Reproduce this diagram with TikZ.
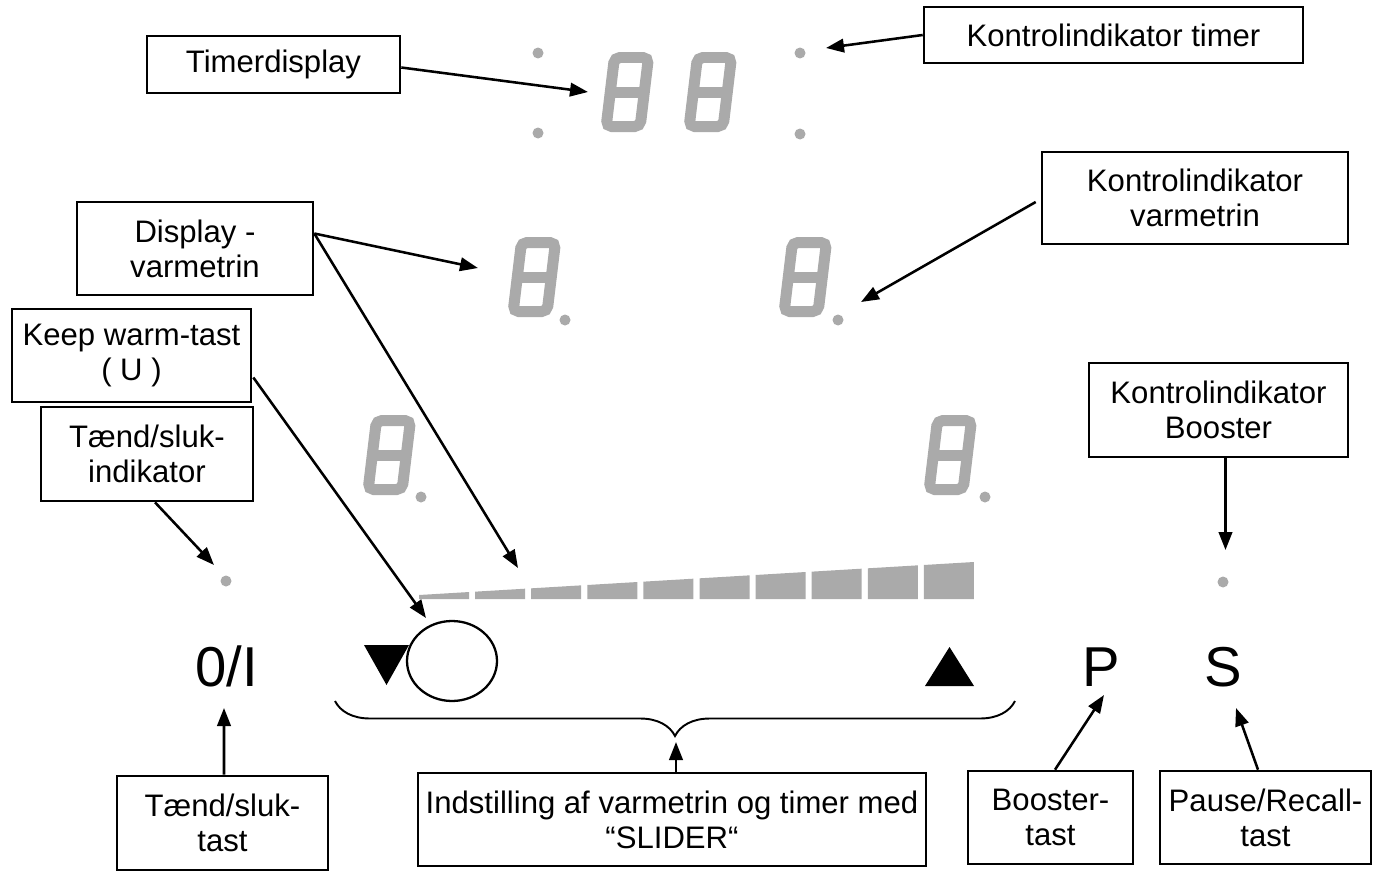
\documentclass[tikz,border=0pt]{standalone}
\usepackage{fontspec}
\setmainfont{Liberation Sans}
\usetikzlibrary{arrows.meta,decorations.pathreplacing,calc,shapes.geometric}
\definecolor{lcd}{RGB}{170,170,170}
\begin{document}
\begin{tikzpicture}[x=0.02cm,y=-0.02cm,
  lbl/.style n args={2}{draw, line width=1.5pt, align=center, inner sep=0pt,
    minimum width={#1*0.02cm}, minimum height={#2*0.02cm},
    font=\fontsize{17.7}{19.8}\selectfont},
  arr/.style={line width=1.45pt, -{Triangle[length=0.36cm,width=0.27cm]}},
  keysym/.style={anchor=base, inner sep=0pt, font=\fontsize{32}{36}\selectfont},
  ind/.style={circle, fill=lcd, inner sep=0pt, minimum size=0.22cm},
  sevseg/.pic={
    \begin{scope}[xslant=0.12]
      \draw[lcd, line width=0.22cm, rounded corners=0.11cm] (5.5,-74.5) rectangle (39.5,-5.5);
      \draw[lcd, line width=0.22cm] (5.5,-40) -- (39.5,-40);
    \end{scope}
  },
]
\useasboundingbox[fill=white] (0,0) rectangle (1379,879);

% seven-segment digits
\pic at (600,132) {sevseg};
\pic at (683,132) {sevseg};
\pic at (507,317) {sevseg};
\pic at (778,317) {sevseg};
\pic at (362,495) {sevseg};
\pic at (923,495) {sevseg};

% decimal points and timer dots
\fill[lcd] (538,53) circle[radius=0.11cm];
\fill[lcd] (538,133) circle[radius=0.11cm];
\fill[lcd] (800,53) circle[radius=0.11cm];
\fill[lcd] (800,134) circle[radius=0.11cm];
\fill[lcd] (565,320) circle[radius=0.11cm];
\fill[lcd] (838,320) circle[radius=0.11cm];
\fill[lcd] (421,497) circle[radius=0.11cm];
\fill[lcd] (985,497) circle[radius=0.11cm];

% slider bars
\foreach \i in {0,...,9}{
  \pgfmathsetmacro\xa{419+56.1*\i}
  \pgfmathsetmacro\xb{\xa+50}
  \fill[lcd] (\xa,599) -- (\xa,{595-0.05946*(\xa-419)}) -- (\xb,{595-0.05946*(\xb-419)}) -- (\xb,599) -- cycle;
}

% slider controls
\fill (364,645) -- (409,645) -- (386.5,685) -- cycle;
\fill (925,686) -- (974,686) -- (949.5,647) -- cycle;
\node[draw, ellipse, line width=1.3pt, inner sep=0pt, minimum width=1.8cm, minimum height=1.6cm] (knob) at (452,661) {};

% indicator dots
\node[ind] (ondot) at (226,581) {};
\node[ind] (bdot) at (1223,582) {};

% key symbols
\node[keysym] (onoff) at (226.5,686) {0/I};
\node[keysym] (pkey) at (1101,686) {P};
\node[keysym] (skey) at (1223,686) {S};

% brace
\draw[line width=1.1pt, decorate, decoration={brace, mirror, amplitude=0.7cm}] (335,701) -- (1015,701);

% label boxes
\node[lbl={253}{57}] (tdisp) at (273.5,64.5) {Timerdisplay};
\node[lbl={379}{56}] (ktimer) at (1113.5,35) {Kontrolindikator timer};
\node[lbl={236}{93}] (dvarm) at (195,248.5) {Display -\\varmetrin};
\node[lbl={306}{92}] (kvarm) at (1195,198) {Kontrolindikator\\varmetrin};
\node[lbl={239}{93}] (keep) at (131.5,355.5) {Keep warm-tast\\( U )};
\node[lbl={212}{94}] (tindi) at (147,454) {Tænd/sluk-\\indikator};
\node[lbl={259}{94}] (kboost) at (1218.5,410) {Kontrolindikator\\Booster};
\node[lbl={211}{94}] (ttast) at (222.5,823) {Tænd/sluk-\\tast};
\node[lbl={508}{93}] (indst) at (672,819.5) {Indstilling af varmetrin og timer med\\“SLIDER“};
\node[lbl={165}{93}] (btast) at (1050.5,817.5) {Booster-\\tast};
\node[lbl={211}{93}] (ptast) at (1265.5,817.5) {Pause/Recall-\\tast};

% arrow targets
\coordinate (t1) at (588,92);
\coordinate (t2) at (826,48);
\coordinate (t3a) at (478,268);
\coordinate (t3b) at (518,568);
\coordinate (t4) at (861,302);
\coordinate (t5) at (426,618);
\coordinate (t6) at (214,565);
\coordinate (t7) at (1225.5,550);
\coordinate (t8) at (224,708);
\coordinate (t9) at (676,742);
\coordinate (t10) at (1104,695);
\coordinate (t11) at (1236,708);

% arrows
\draw[arr] ($(tdisp.east)+(0,3)$) -- (t1);
\draw[arr] (ktimer.west) -- (t2);
\draw[arr] ($(dvarm.east)+(0,-15)$) -- (t3a);
\draw[arr] ($(dvarm.east)+(0,-15)$) -- (t3b);
\draw[arr] ($(kvarm.west)+(-5,4)$) -- (t4);
\draw[arr] ($(keep.east)+(1,22)$) -- (t5);
\draw[arr] ($(tindi.south)+(8,0)$) -- (t6);
\draw[arr] ($(kboost.south)+(7,0)$) -- (t7);
\draw[arr] ($(ttast.north)+(1.5,0)$) -- (t8);
\draw[arr] ($(indst.north)+(4,0)$) -- (t9);
\draw[arr] ($(btast.north)+(4.5,0)$) -- (t10);
\draw[arr] ($(ptast.north)+(-7.5,0)$) -- (t11);
\end{tikzpicture}
\end{document}
